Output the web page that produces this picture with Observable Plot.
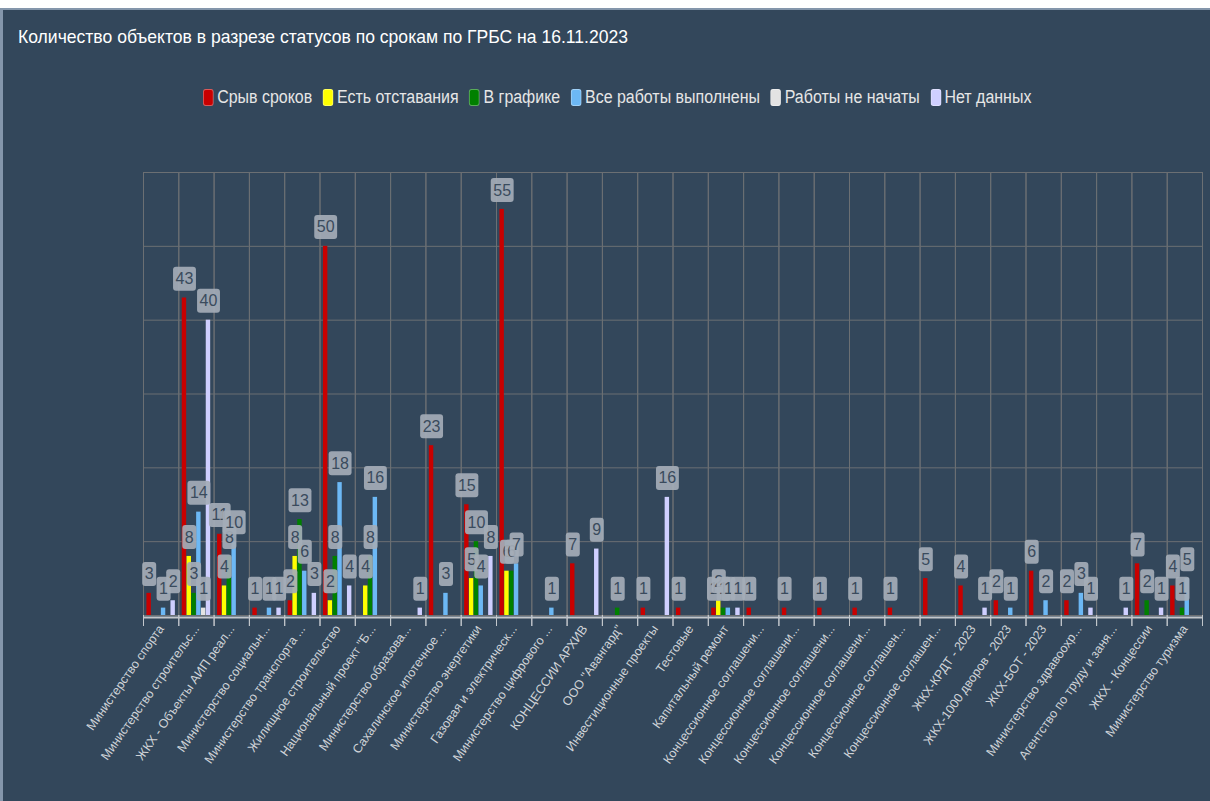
<!DOCTYPE html>
<html>
<head>
<meta charset="utf-8">
<script src="https://cdn.jsdelivr.net/npm/d3@7"></script>
<script src="https://cdn.jsdelivr.net/npm/@observablehq/plot@0.6"></script>
<style>
  html, body { margin: 0; padding: 0; background: #ffffff; }
  body { width: 1210px; height: 801px; position: relative; overflow: hidden; font-family: "Liberation Sans", Arial, sans-serif; }
  #panel { position: absolute; left: 0; top: 8px; width: 1210px; height: 793px; box-sizing: border-box;
           background: #33475b; border-top: 2px solid #8496ab; border-left: 3px solid #8496ab; }
  #title { position: absolute; left: 18px; top: 26px; color: #ffffff; font-size: 19px; line-height: 22px;
           white-space: nowrap; transform-origin: 0 0; }
  #legend { position: absolute; left: 203px; top: 88px; display: flex; align-items: center; white-space: nowrap;
            transform-origin: 0 0; color: #e6e6e6; font-size: 18px; line-height: 18px; }
  .item { display: flex; align-items: center; margin-right: 12px; }
  .sw { width: 12px; height: 17px; border-radius: 3px; margin-right: 4px; box-sizing: border-box; border: 1px solid rgba(255,255,255,0.35); }
  #chart { position: absolute; left: 0; top: 150px; }
</style>
</head>
<body>
<div id="panel"></div>
<div id="title">Количество объектов в разрезе статусов по срокам по ГРБС на 16.11.2023</div>
<div id="legend"></div>
<div id="chart"></div>
<script>
// ---- data ----
const categories = [
  "Министерство спорта",
  "Министерство строительс...",
  "ЖКХ - Объекты АИП реал...",
  "Министерство социальн...",
  "Министерство транспорта ...",
  "Жилищное строительство",
  "Национальный проект \"Б...",
  "Министерство образова...",
  "Сахалинское ипотечное ...",
  "Министерство энергетики",
  "Газовая и электрическ...",
  "Министерство цифрового ...",
  "КОНЦЕССИИ АРХИВ",
  "ООО \"Авангард\"",
  "Инвестиционные проекты",
  "Тестовые",
  "Капитальный ремонт",
  "Концессионное соглашени...",
  "Концессионное соглашени...",
  "Концессионное соглашени...",
  "Концессионное соглашени...",
  "Концессионное соглашен...",
  "Концессионное соглашен...",
  "ЖКХ-КРДТ - 2023",
  "ЖКХ-1000 дворов - 2023",
  "ЖКХ-БОТ - 2023",
  "Министерство здравоохр...",
  "Агентство по труду и заня...",
  "ЖКХ - Концессии",
  "Министерство туризма"
];

const seriesNames = ["Срыв сроков", "Есть отставания", "В графике", "Все работы выполнены", "Работы не начаты", "Нет данных"];
const seriesColors = ["#c80000", "#ffff00", "#008000", "#6cb8f5", "#e3e3e3", "#cfcfff"];

const sryvSrokov      = [3,43,11,1,2,50,0,0,23,15,55,0,7,0,1,1,1,1,1,1,1,1,5,4,2,6,2,0,7,4];
const estOtstavaniya  = [0,8,4,0,8,2,4,0,0,5,6,0,0,0,0,0,2,0,0,0,0,0,0,0,0,0,0,0,0,0];
const vGrafike        = [0,3,8,0,13,8,8,0,0,10,6,0,0,1,0,0,1,0,0,0,0,0,0,0,0,0,0,0,2,1];
const vseVypolneny    = [1,14,10,1,6,18,16,0,3,4,7,1,0,0,0,0,1,0,0,0,0,0,0,0,1,2,3,0,0,5];
const neNachaty       = [0,1,0,0,0,0,0,0,0,0,0,0,0,0,0,0,0,0,0,0,0,0,0,0,0,0,0,0,0,0];
const netDannyh       = [2,40,0,1,3,4,0,1,0,8,0,0,9,0,16,0,1,0,0,0,0,0,0,1,0,0,1,1,1,0];

const seriesValues = [sryvSrokov, estOtstavaniya, vGrafike, vseVypolneny, neNachaty, netDannyh];

const rows = [];
seriesValues.forEach((vals, s) => vals.forEach((v, i) => {
  if (v > 0) rows.push({cat: i, series: seriesNames[s], value: v});
}));

// ---- legend ----
const legend = document.getElementById("legend");
seriesNames.forEach((name, i) => {
  const it = document.createElement("div");
  it.className = "item";
  const sw = document.createElement("div");
  sw.className = "sw";
  sw.style.background = seriesColors[i];
  const tx = document.createElement("span");
  tx.textContent = name;
  it.appendChild(sw); it.appendChild(tx);
  legend.appendChild(it);
});

// condensed look for title and legend
function fitWidth(el, target) {
  const w = el.getBoundingClientRect().width;
  el.style.transform = `scaleX(${target / w})`;
}
fitWidth(document.getElementById("title"), 610);
fitWidth(legend, 839);

// ---- chart ----
const W = 1210, mL = 143, mR = 8;
const plotHeight = 443;
const gridColor = "#6b6f73";
const axisColor = "#c3c7cc";

const labelMarks = seriesNames.map(s => Plot.text(rows.filter(d => d.series === s), {
  fx: "cat", x: "series", y: "value",
  text: d => String(d.value),
  dy: -19, fill: "#3a4b5d", fontSize: 16, ariaDescription: "vlabel"
}));

const chart = Plot.plot({
  width: W, height: 651,
  marginLeft: mL, marginRight: mR, marginTop: 22, marginBottom: 186,
  style: {background: "transparent", color: "#d0d4d8", fontFamily: "'Liberation Sans', Arial, sans-serif", overflow: "visible"},
  fx: {domain: d3.range(categories.length), padding: 0, round: false, label: null},
  x: {domain: seriesNames, paddingInner: 0.08, paddingOuter: 0.715, round: false, axis: null},
  y: {domain: [0, 60], axis: null},
  color: {domain: seriesNames, range: seriesColors},
  marks: [
    Plot.gridY(d3.range(0, 61, 10), {stroke: gridColor, strokeOpacity: 1}),
    Plot.frame({stroke: gridColor}),
    Plot.barY(rows, {fx: "cat", x: "series", y: "value", fill: "series"}),
    // boundary tick marks below the axis
    Plot.frame({anchor: "left", stroke: axisColor, insetTop: plotHeight, insetBottom: -10}),
    Plot.frame({anchor: "right", stroke: axisColor, insetTop: plotHeight, insetBottom: -10}),
    Plot.ruleY([0], {stroke: axisColor, strokeWidth: 2, dy: 2}),
    ...labelMarks,
    Plot.axisFx({anchor: "bottom", tickSize: 0, tickPadding: 11, tickRotate: -55, fontSize: 12.5, fill: "#cfd3d8",
                 tickFormat: i => categories[i], label: null})
  ]
});
document.getElementById("chart").appendChild(chart);

// rounded label boxes behind the value labels
const svgNS = "http://www.w3.org/2000/svg";
chart.querySelectorAll('[aria-description="vlabel"] text').forEach(t => {
  const bb = t.getBBox();
  const r = document.createElementNS(svgNS, "rect");
  const cy = bb.y + bb.height / 2;
  r.setAttribute("x", bb.x - 2.5);
  r.setAttribute("y", cy - 12);
  r.setAttribute("width", bb.width + 5);
  r.setAttribute("height", 24);
  r.setAttribute("rx", 3);
  r.setAttribute("fill", "#a4adb7");
  r.setAttribute("fill-opacity", 0.92);
  const tr = t.getAttribute("transform");
  if (tr) r.setAttribute("transform", tr);
  t.parentNode.insertBefore(r, t);
});
</script>
</body>
</html>
